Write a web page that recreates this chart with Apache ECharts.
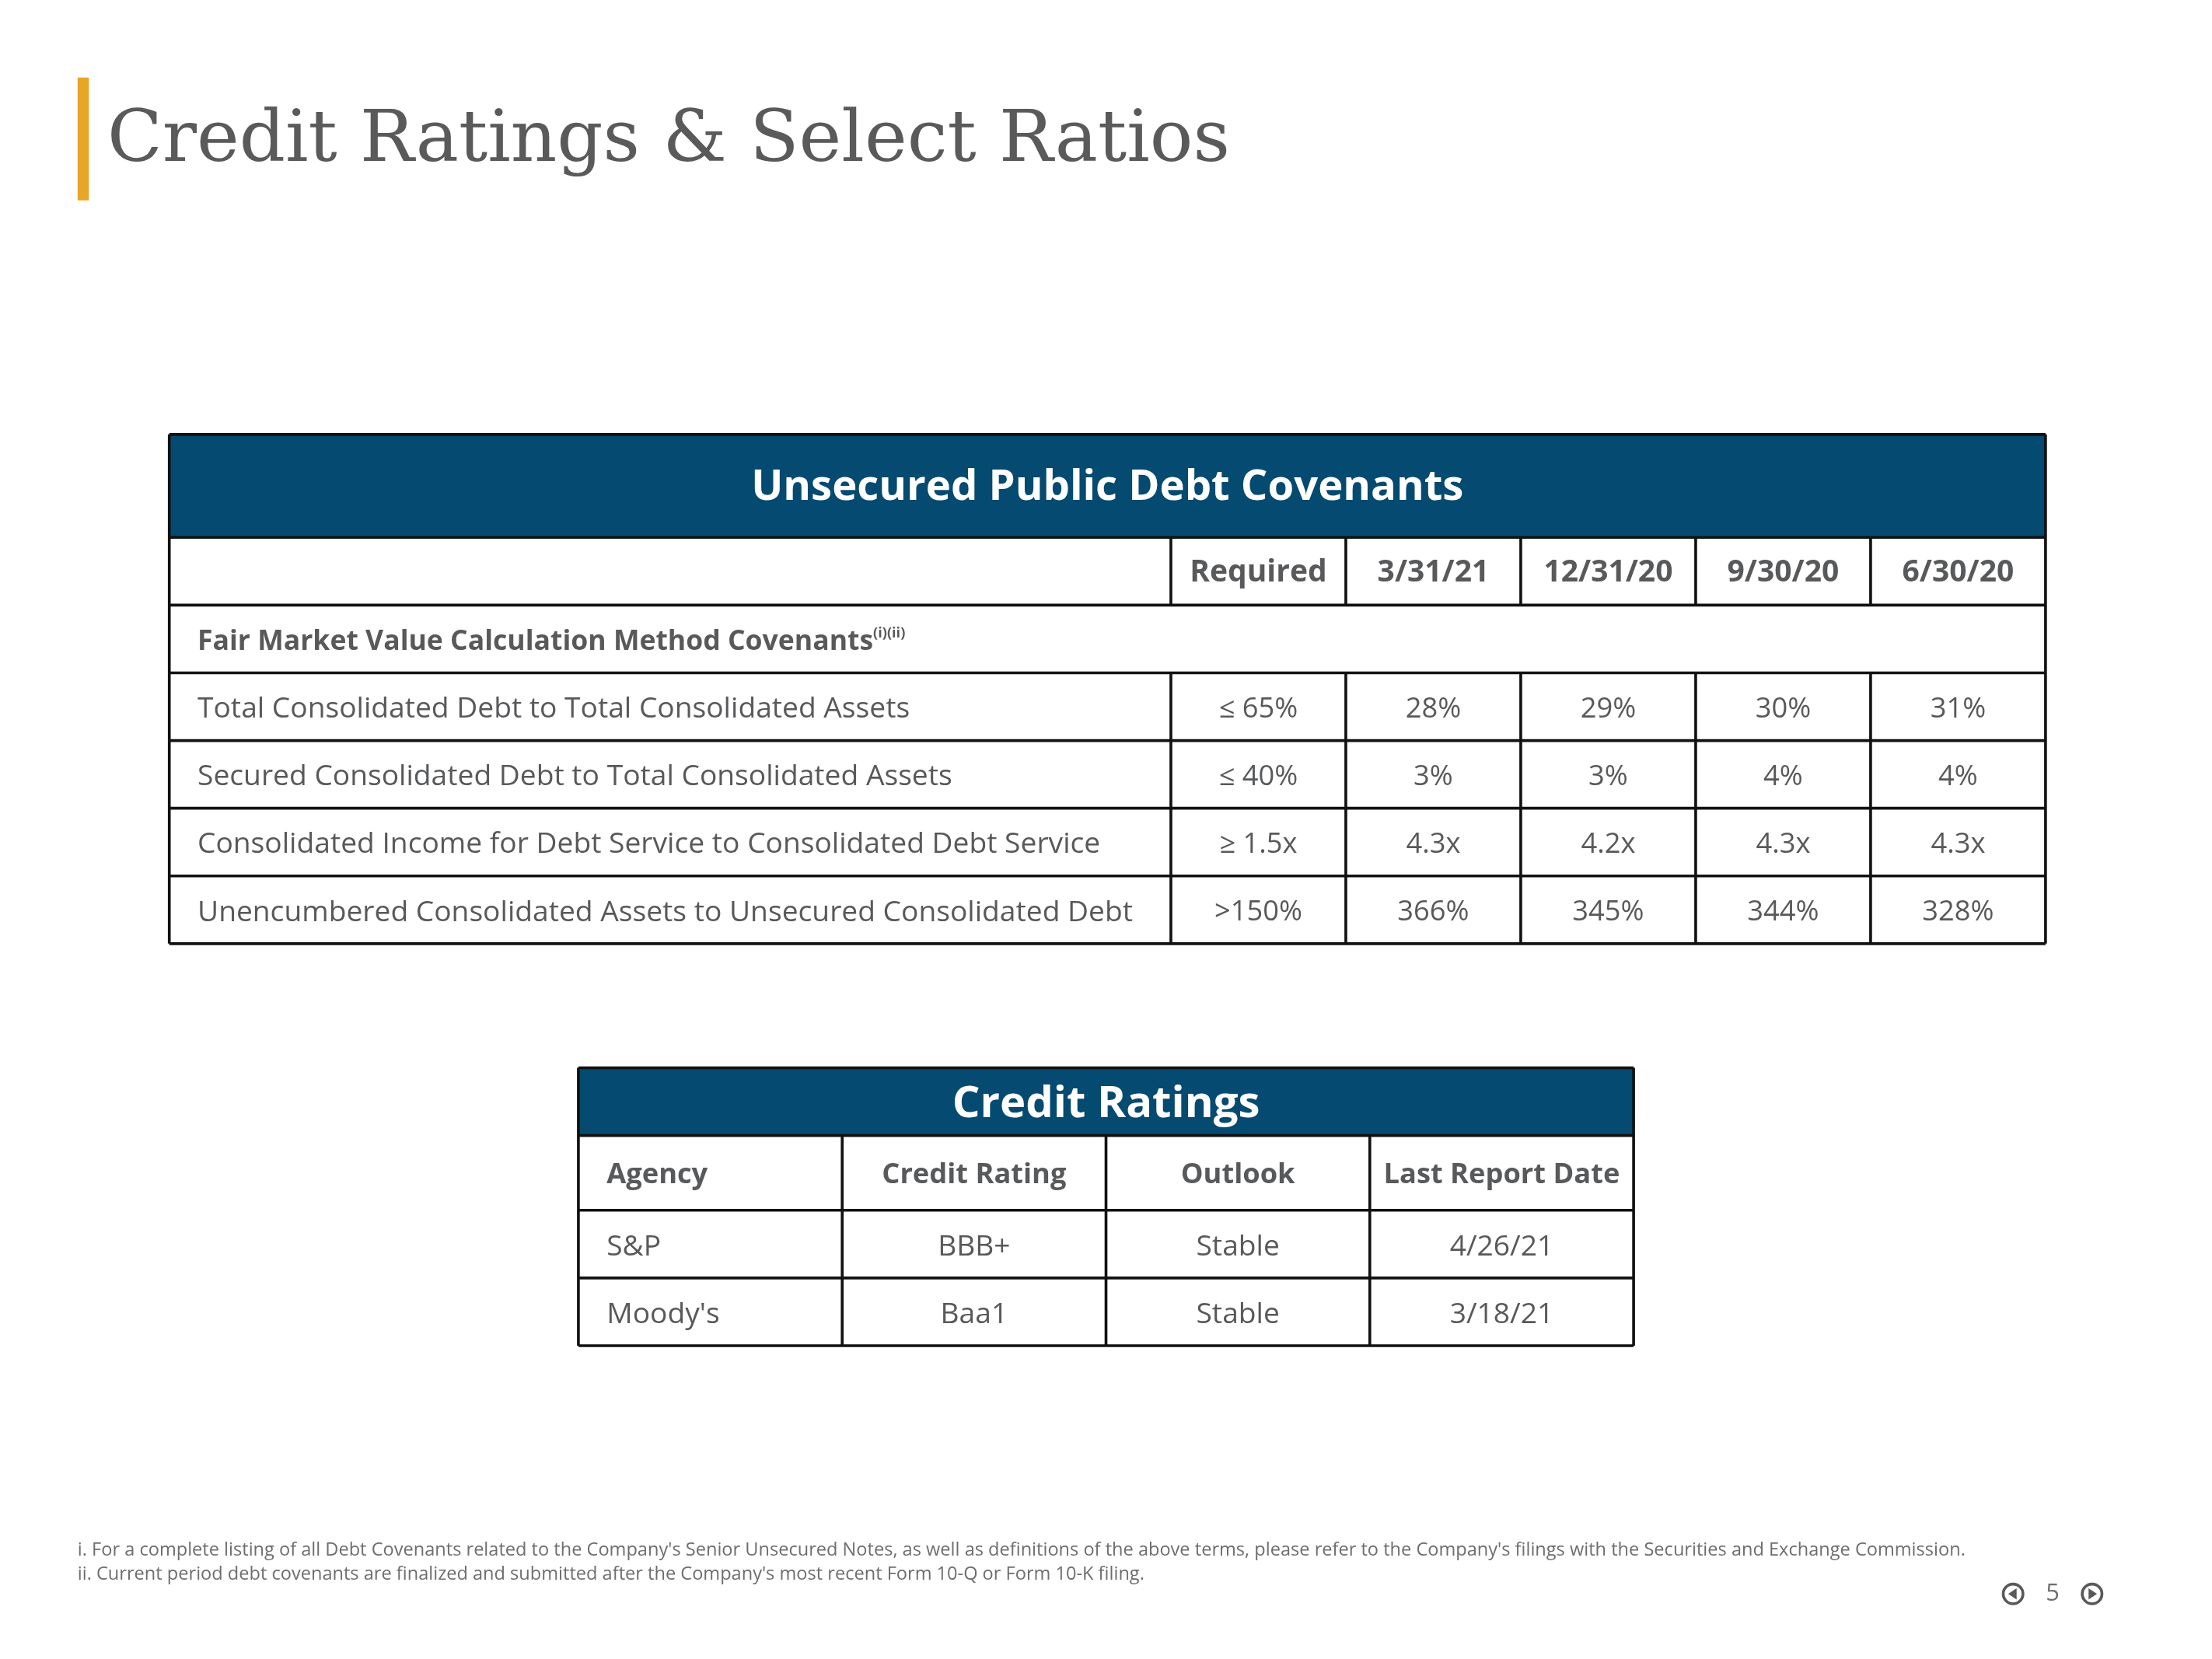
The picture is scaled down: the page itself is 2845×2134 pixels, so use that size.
<!DOCTYPE html>
<html><head><meta charset="utf-8">
<script src="https://cdn.jsdelivr.net/npm/echarts@6/dist/echarts.min.js"></script>
<style>html,body{margin:0;padding:0;background:#fff}#c{width:2845px;height:2134px}</style>
</head><body><div id="c"></div>
<script>
// covenant table data
var covTitle = 'Unsecured Public Debt Covenants';
var covHeaders = ['Required', '3/31/21', '12/31/20', '9/30/20', '6/30/20'];
var covSection = 'Fair Market Value Calculation Method Covenants';
var covRows = [
  'Total Consolidated Debt to Total Consolidated Assets',
  'Secured Consolidated Debt to Total Consolidated Assets',
  'Consolidated Income for Debt Service to Consolidated Debt Service',
  'Unencumbered Consolidated Assets to Unsecured Consolidated Debt'
];
var covValues = [
  ['≤ 65%', '28%', '29%', '30%', '31%'],
  ['≤ 40%', '3%', '3%', '4%', '4%'],
  ['≥ 1.5x', '4.3x', '4.2x', '4.3x', '4.3x'],
  ['>150%', '366%', '345%', '344%', '328%']
];
// ratings table data
var ratTitle = 'Credit Ratings';
var ratHeaders = ['Agency', 'Credit Rating', 'Outlook', 'Last Report Date'];
var ratRows = [
  ['S&P', 'BBB+', 'Stable', '4/26/21'],
  ["Moody's", 'Baa1', 'Stable', '3/18/21']
];
var footnotes = [
  "i. For a complete listing of all Debt Covenants related to the Company's Senior Unsecured Notes, as well as definitions of the above terms, please refer to the Company's filings with the Securities and Exchange Commission.",
  "ii. Current period debt covenants are finalized and submitted after the Company's most recent Form 10-Q or Form 10-K filing."
];

var s = 2845 / 1568;
var BLUE = '#054a70', GRAY = '#58595b', FONT = 'Open Sans';
var g = [];
function rect(x1, y1, x2, y2, fill) {
  g.push({type: 'rect', shape: {x: x1 * s, y: y1 * s, width: (x2 - x1) * s, height: (y2 - y1) * s}, style: {fill: fill}});
}
function line(x1, y1, x2, y2, w) {
  g.push({type: 'line', z: 5, shape: {x1: x1 * s, y1: y1 * s, x2: x2 * s, y2: y2 * s}, style: {stroke: '#111', lineWidth: (w || 2) * s}});
}
function text(t, x, y, size, opt) {
  opt = opt || {};
  var st = {
    text: t, fill: opt.fill || GRAY, fontSize: size * s, fontFamily: opt.font || FONT,
    fontWeight: opt.weight || 'normal', align: opt.align || 'left', verticalAlign: 'middle'
  };
  if (opt.rich) st.rich = opt.rich;
  g.push({type: 'text', z: 6, x: x * s, y: y * s, style: st});
}

// title
rect(55, 55, 63, 142, '#e8a628');
text('Credit Ratings & Select Ratios', 76, 101, 51, {font: 'DejaVu Serif', fill: '#5a5a5a'});

// covenant table
var cx = [120, 830, 954, 1078, 1202, 1326, 1450];
var ty = 308, hy = 381, sy = 429, ry = 477, rh = 48;
rect(cx[0], ty, cx[6], hy, BLUE);
text(covTitle, 785, 346, 30, {fill: '#fff', weight: 'bold', align: 'center'});
var yEnd = ry + rh * covRows.length;
line(cx[0], ty, cx[6], ty); line(cx[0], yEnd, cx[6], yEnd);
line(cx[0], ty, cx[0], yEnd); line(cx[6], ty, cx[6], yEnd);
line(cx[0], hy, cx[6], hy); line(cx[0], sy, cx[6], sy);
for (var i = 1; i < 6; i++) { line(cx[i], hy, cx[i], sy); line(cx[i], ry, cx[i], yEnd); }
covHeaders.forEach(function (h, i) { text(h, (cx[i + 1] + cx[i + 2]) / 2, 406, 21.5, {weight: 'bold', align: 'center'}); });
text(covSection + '{sup|(i)(ii)}', 140, 455, 19.6, {weight: 'bold',
  rich: {sup: {fontSize: 10 * s, fontFamily: FONT, fontWeight: 'bold', fill: GRAY, verticalAlign: 'top', padding: [0, 0, 12 * s, 0]}}});
covRows.forEach(function (r, j) {
  var y = ry + rh * j;
  line(cx[0], y, cx[6], y);
  text(r, 140, y + rh / 2 + 2, 20.5);
  covValues[j].forEach(function (v, i) { text(v, (cx[i + 1] + cx[i + 2]) / 2, y + rh / 2 + 2, 20, {align: 'center'}); });
});

// ratings table
var rx = [410, 597, 784, 971, 1158];
var rty = 757, rhy = 805, rry = 858, rrh = 48;
rect(rx[0], rty, rx[4], rhy, BLUE);
text(ratTitle, 784, 783, 31, {fill: '#fff', weight: 'bold', align: 'center'});
var rEnd = rry + rrh * ratRows.length;
line(rx[0], rty, rx[4], rty); line(rx[0], rEnd, rx[4], rEnd);
line(rx[0], rty, rx[0], rEnd); line(rx[4], rty, rx[4], rEnd);
line(rx[0], rhy, rx[4], rhy);
for (i = 1; i < 4; i++) line(rx[i], rhy, rx[i], rEnd);
ratHeaders.forEach(function (h, i) {
  text(h, i === 0 ? 430 : (rx[i] + rx[i + 1]) / 2, 833, 20, {weight: 'bold', align: i === 0 ? 'left' : 'center'});
});
ratRows.forEach(function (r, j) {
  var y = rry + rrh * j;
  line(rx[0], y, rx[4], y);
  r.forEach(function (v, i) {
    text(v, i === 0 ? 430 : (rx[i] + rx[i + 1]) / 2, y + rrh / 2 + 2, 20.5, {align: i === 0 ? 'left' : 'center'});
  });
});

// footnotes and page number
text(footnotes[0], 55, 1099, 13, {fill: '#6d6e70'});
text(footnotes[1], 55, 1116, 13, {fill: '#6d6e70'});
text('5', 1455, 1130, 17, {fill: '#6d6e70', align: 'center'});
[1427, 1483].forEach(function (x, k) {
  g.push({type: 'circle', z: 6, shape: {cx: x * s, cy: 1130 * s, r: 7 * s}, style: {fill: 'none', stroke: '#58595b', lineWidth: 2 * s}});
  var d = k === 0 ? -1 : 1;
  g.push({type: 'polygon', z: 6, shape: {points: [[(x + 3.5 * d) * s, 1130 * s], [(x - 2.5 * d) * s, 1126 * s], [(x - 2.5 * d) * s, 1134 * s]]}, style: {fill: '#58595b'}});
});

var chart = echarts.init(document.getElementById('c'));
chart.setOption({backgroundColor: '#fff', animation: false, graphic: g});
</script></body></html>
